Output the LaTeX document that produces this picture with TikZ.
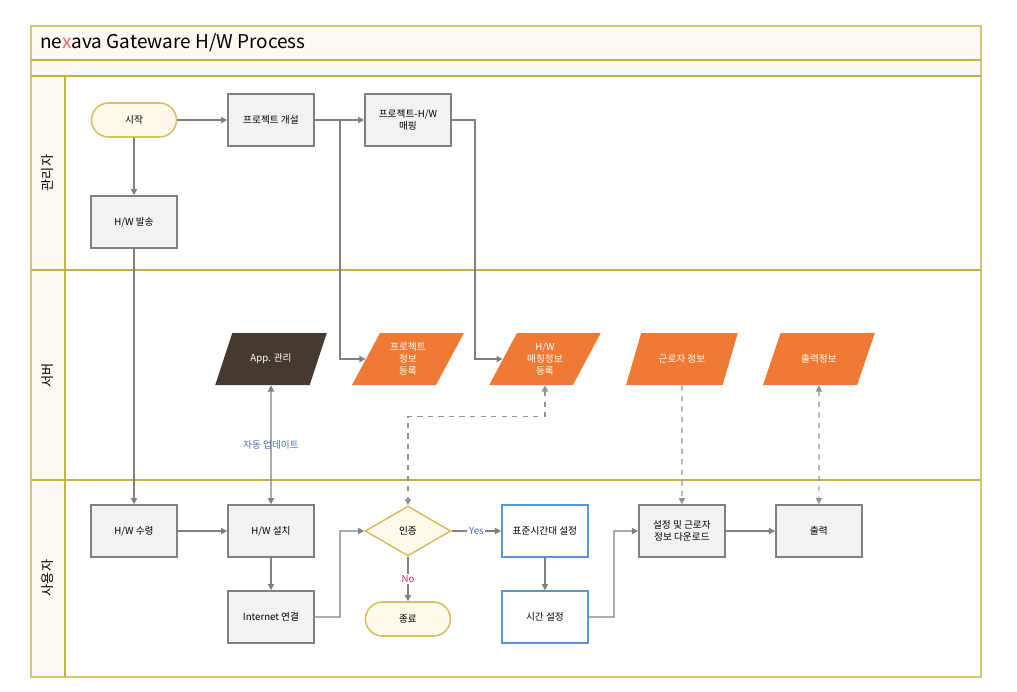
\documentclass[tikz,border=0pt]{standalone}
\usepackage{fontspec}
\setmainfont{Noto Sans CJK KR}
\usetikzlibrary{shapes.geometric, arrows.meta, positioning, calc}
\definecolor{lanegold}{RGB}{196,178,70}
\definecolor{framegold}{RGB}{214,196,120}
\definecolor{creamfill}{RGB}{252,248,242}
\definecolor{boxgray}{RGB}{242,242,242}
\definecolor{linegray}{RGB}{128,128,128}
\definecolor{termgold}{RGB}{216,190,100}
\definecolor{termfill}{RGB}{255,249,234}
\definecolor{dataorange}{RGB}{240,122,52}
\definecolor{appbrown}{RGB}{70,58,48}
\definecolor{stepblue}{RGB}{90,150,205}
\definecolor{labelblue}{RGB}{70,110,180}
\definecolor{nored}{RGB}{225,45,85}
\definecolor{titlered}{RGB}{230,110,110}
\newcommand{\boxfont}{\fontsize{5.5}{6.8}\selectfont}

\begin{document}
\begin{tikzpicture}[
        x=0.02cm, y=-0.02cm,
        node distance=2.74cm, on grid,
        >={Triangle[length=3.5pt,width=3.5pt]},
        box/.style={rectangle, draw=linegray, fill=boxgray, line width=0.9pt, minimum width=1.72cm, minimum height=1.04cm, align=center, font=\boxfont},
        bluebox/.style={box, draw=stepblue, fill=white},
        term/.style={rectangle, rounded corners=0.34cm, draw=termgold, fill=termfill, line width=0.9pt, minimum width=1.7cm, minimum height=0.68cm, font=\boxfont},
        decision/.style={diamond, draw=termgold, fill=termfill, line width=0.9pt, minimum width=1.72cm, minimum height=1.0cm, inner sep=0pt, font=\boxfont},
        data/.style={trapezium, trapezium left angle=62, trapezium right angle=118, trapezium stretches=true, fill=dataorange, text=white, minimum width=2.24cm, minimum height=1.04cm, align=center, font=\boxfont},
        flow/.style={->, draw=linegray, line width=0.8pt},
        dflow/.style={->, draw=linegray!85, line width=0.7pt, dashed}
    ]
        \useasboundingbox (0,0) rectangle (1017,691);

        % swimlanes
        \fill[creamfill] (31,26) rectangle (981,76);
        \fill[creamfill] (31,76) rectangle (65,677);
        \draw[framegold, line width=0.8pt] (31,26) rectangle (981,677);
        \draw[lanegold, line width=0.8pt] (31,60) -- (981,60);
        \draw[lanegold, line width=0.8pt] (31,76) -- (981,76);
        \draw[lanegold, line width=0.8pt] (31,270) -- (981,270);
        \draw[lanegold, line width=0.8pt] (31,480) -- (981,480);
        \draw[lanegold, line width=0.8pt] (65,76) -- (65,677);

        \node[anchor=west, font=\fontsize{10.8}{12}\selectfont] (title) at (34,43) {ne\textcolor{titlered}{x}ava Gateware H/W Process};
        \node[rotate=90, font=\fontsize{7.5}{9}\selectfont] (lane1) at (48,173) {관리자};
        \node[rotate=90, font=\fontsize{7.5}{9}\selectfont] (lane2) at (48,375) {서버};
        \node[rotate=90, font=\fontsize{7.5}{9}\selectfont] (lane3) at (48,578) {사용자};

        % 관리자
        \node[term] (start) at (134,120) {시작};
        \node[box, right=of start] (proj) {프로젝트 개설};
        \node[box, right=of proj] (map) {프로젝트-H/W\\매핑};
        \node[box, below=2.04cm of start] (send) {H/W 발송};

        % 서버
        \node[data, fill=appbrown] (app) at (271,359) {App. 관리};
        \node[data, right=of app] (projreg) {프로젝트\\정보\\등록};
        \node[data, right=of projreg] (hwreg) {H/W\\매칭정보\\등록};
        \node[data, right=of hwreg] (worker) {근로자 정보};
        \node[data, right=of worker] (printinfo) {출력정보};

        % 사용자
        \node[box] (recv) at (134,531) {H/W 수령};
        \node[box, right=of recv] (install) {H/W 설치};
        \node[box, below=1.72cm of install] (net) {Internet 연결};
        \node[decision, right=of install] (auth) {인증};
        \node[term, below=1.76cm of auth] (stop) {종료};
        \node[bluebox, right=of auth] (tz) {표준시간대 설정};
        \node[bluebox, below=1.72cm of tz] (time) {시간 설정};
        \node[box, right=of tz] (dl) {설정 및 근로자\\정보 다운로드};
        \node[box, right=of dl] (out) {출력};

        \coordinate (j1) at (340,120);
        \coordinate (j2) at (475,120);
        \coordinate (j3) at (340,617);
        \coordinate (j4) at (614,617);

        \draw[flow] (start) -- (proj);
        \draw[flow] (start) -- (send);
        \draw[flow] (proj.east) -- (j1) |- (projreg);
        \draw[flow] (j1) -- (map);
        \draw[flow] (map.east) -- (j2) |- (hwreg);
        \draw[flow] (send) -- (recv);
        \draw[flow] (recv) -- (install);
        \draw[flow, <->] (install) -- node[text=labelblue, font=\boxfont] (upd) {자동 업데이트} (app);
        \draw[flow] (install) -- (net);
        \draw[flow] (net) -- (j3) |- (auth);
        \draw[flow] (auth) -- node[fill=white, text=labelblue, font=\boxfont, inner sep=1pt] (yes) {Yes} (tz);
        \draw[flow] (auth) -- node[fill=white, text=nored, font=\boxfont, inner sep=1pt] (no) {No} (stop);
        \draw[flow] (tz) -- (time);
        \draw[flow] (time) -- (j4) |- (dl);
        \draw[flow] (dl) -- (out);
        \draw[dflow, <->] (hwreg.south) -- ++(0,31) -| (auth.north);
        \draw[dflow] (worker) -- (dl);
        \draw[dflow, <->] (printinfo) -- (out);
    \end{tikzpicture}
\end{document}
